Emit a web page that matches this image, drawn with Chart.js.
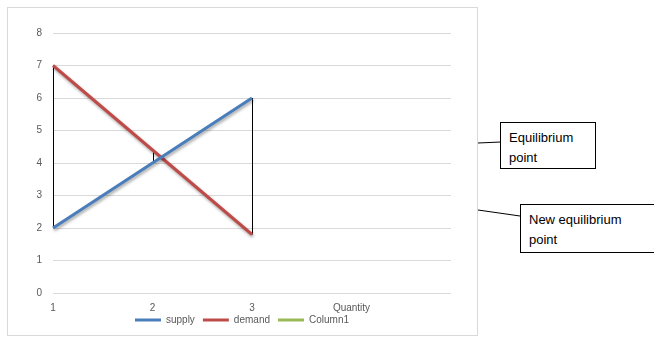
<!DOCTYPE html>
<html>
<head>
<meta charset="utf-8">
<script src="https://cdn.jsdelivr.net/npm/chart.js@4.4.0/dist/chart.umd.min.js"></script>
<style>
  body { margin: 0; background: #fff; width: 654px; height: 342px; position: relative; overflow: hidden; font-family: "Liberation Sans", Arial, sans-serif; }
  #frame { position: absolute; left: 7px; top: 7px; width: 471px; height: 329px; box-sizing: border-box; border: 1px solid #d9d9d9; }
  #wrap { position: absolute; left: 8px; top: 8px; width: 470px; height: 328px; }
  .note { position: absolute; border: 1px solid #000; background: #fff; box-sizing: border-box; font-size: 13px; line-height: 20px; color: #000; padding: 5px 0 0 8px; }
  #links { position: absolute; left: 0; top: 0; }
</style>
</head>
<body>
<div id="frame"></div>
<div id="wrap"><canvas id="canvas-line" width="470" height="328"></canvas></div>
<svg id="links" width="654" height="342">
  <line x1="478" y1="143" x2="501" y2="142" stroke="#000" stroke-width="1"/>
  <line x1="478" y1="210" x2="520" y2="216" stroke="#000" stroke-width="1"/>
</svg>
<div class="note" style="left:500px;top:122px;width:96px;height:47px;">Equilibrium<br>point</div>
<div class="note" style="left:520px;top:204px;width:136px;height:49px;">New equilibrium<br>point</div>

<script>
var quantities = ["1", "2", "3", "Quantity", ""];
var supply = [2, 4, 6];
var demand = [7, 4.4, 1.8];
var column1 = [];
var yTicks = [0, 1, 2, 3, 4, 5, 6, 7, 8];

// high-low lines between supply and demand at each category
var highLow = {
  id: "highLow",
  beforeDatasetsDraw: function(chart) {
    var ctx = chart.ctx;
    var x = chart.scales.x, y = chart.scales.y;
    ctx.save();
    ctx.strokeStyle = "#000";
    ctx.lineWidth = 1;
    for (var i = 0; i < Math.min(supply.length, demand.length); i++) {
      var px = Math.round(x.getPixelForValue(i)) + 0.5;
      ctx.beginPath();
      ctx.moveTo(px, y.getPixelForValue(supply[i]));
      ctx.lineTo(px, y.getPixelForValue(demand[i]));
      ctx.stroke();
    }
    ctx.restore();
  }
};

// soft shadow under the series lines
var lineShadow = {
  id: "lineShadow",
  beforeDatasetDraw: function(chart) {
    var ctx = chart.ctx;
    ctx.save();
    ctx.shadowColor = "rgba(0,0,0,0.35)";
    ctx.shadowBlur = 3;
    ctx.shadowOffsetX = 1;
    ctx.shadowOffsetY = 2;
  },
  afterDatasetDraw: function(chart) {
    chart.ctx.restore();
  }
};

// x labels overlap the legend band a little, so don't clip them at the axis box
var labelRoom = {
  id: "labelRoom",
  afterLayout: function(chart) {
    chart.scales.x.bottom += 8;
  }
};

var ctx = document.getElementById("canvas-line").getContext("2d");
var chart = new Chart(ctx, {
  type: "line",
  data: {
    labels: quantities,
    datasets: [
      { label: "supply", data: supply, borderColor: "#4a7ebb", backgroundColor: "#4a7ebb", borderWidth: 3, pointRadius: 0, tension: 0 },
      { label: "demand", data: demand, borderColor: "#be4b48", backgroundColor: "#be4b48", borderWidth: 3, pointRadius: 0, tension: 0 },
      { label: "Column1", data: column1, borderColor: "#98b954", backgroundColor: "#98b954", borderWidth: 3, pointRadius: 0 }
    ]
  },
  options: {
    responsive: false,
    animation: false,
    devicePixelRatio: 1,
    layout: { padding: { left: 25, top: 25, right: 27, bottom: 1 } },
    plugins: {
      tooltip: { enabled: false },
      legend: {
        position: "bottom",
        labels: {
          boxWidth: 26,
          boxHeight: 3,
          padding: 8,
          color: "#595959",
          font: { family: "Liberation Sans", size: 10 },
          generateLabels: function(c) {
            return Chart.defaults.plugins.legend.labels.generateLabels(c).map(function(l) {
              l.lineWidth = 0;
              return l;
            });
          }
        }
      }
    },
    scales: {
      x: {
        offset: false,
        grid: { display: false, drawTicks: false },
        border: { display: false },
        ticks: { color: "#595959", padding: 9, maxRotation: 0, autoSkip: false, font: { family: "Liberation Sans", size: 10 } },
        afterFit: function(s) { s.height = 14; }
      },
      y: {
        min: 0,
        max: 8,
        afterBuildTicks: function(s) { s.ticks = yTicks.map(function(v) { return { value: v }; }); },
        grid: { color: "#d9d9d9", drawTicks: false },
        border: { display: false },
        ticks: { color: "#595959", padding: 11, autoSkip: false, font: { family: "Liberation Sans", size: 10 } },
        afterFit: function(s) { s.width = 20; }
      }
    }
  },
  plugins: [highLow, lineShadow, labelRoom]
});
</script>
</body>
</html>
